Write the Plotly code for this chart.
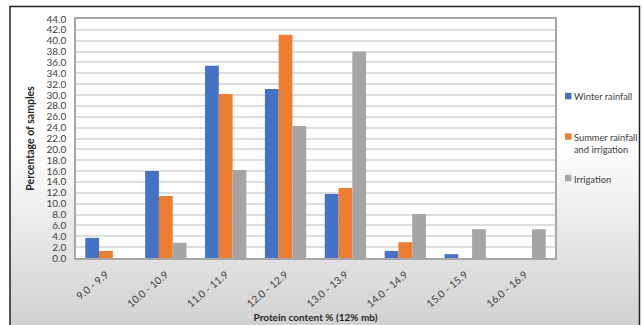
import plotly.graph_objects as go

categories = ["9.0 - 9.9", "10.0 - 10.9", "11.0 - 11.9", "12.0 - 12.9",
              "13.0 - 13.9", "14.0 - 14.9", "15.0 - 15.9", "16.0 - 16.9"]
winter_rainfall = [3.7, 16.0, 35.4, 31.1, 11.8, 1.3, 0.7, 0.0]
summer_rainfall_irrigation = [1.3, 11.4, 30.2, 41.1, 12.9, 2.9, 0.0, 0.0]
irrigation = [0.0, 2.8, 16.2, 24.3, 38.0, 8.1, 5.3, 5.3]

series_names = ["Winter rainfall", "Summer rainfall<br>and irrigation", "Irrigation"]
series_values = [winter_rainfall, summer_rainfall_irrigation, irrigation]
series_colors = ["#4472C4", "#ED7D31", "#A5A5A5"]

FONT = "Lato, 'Open Sans', sans-serif"

fig = go.Figure()
for name, vals, col in zip(series_names, series_values, series_colors):
    fig.add_trace(go.Bar(x=categories, y=vals, name=name.replace("<br>", " "),
                         marker_color=col, marker_line_width=0, showlegend=False))

# plot area in pixels: x 76..555, y 19..258
L, R, T, B = 76, 555, 19, 258
W, H = R - L, B - T
def px(x): return (x - L) / W
def py(y): return (B - y) / H

shapes = []
# background gradient (white -> light grey towards the bottom)
y_start, y_end = 140, 330
n = 48
for k in range(n):
    y0 = y_start + (y_end - y_start) * k / n
    y1 = y_start + (y_end - y_start) * (k + 1) / n
    t = (k + 0.5) / n
    g = int(round(255 - (255 - 208) * t))
    shapes.append(dict(type="rect", xref="paper", yref="paper",
                       x0=px(10), x1=px(640), y0=py(y1 + 0.5), y1=py(y0),
                       fillcolor=f"rgb({g},{g},{g})", line_width=0, layer="below"))
# white plot area
shapes.append(dict(type="rect", xref="paper", yref="paper", x0=0, x1=1, y0=0, y1=1,
                   fillcolor="white", line_width=0, layer="below"))
# outer chart frame
shapes.append(dict(type="rect", xref="paper", yref="paper",
                   x0=px(10), x1=px(639.5), y0=py(335), y1=py(6.5),
                   fillcolor="rgba(0,0,0,0)", line=dict(color="#202020", width=1.5)))

# manual legend
legend_rows = [96, 136.5, 178]
annotations = []
for (name, col, yy) in zip(series_names, series_colors, legend_rows):
    shapes.append(dict(type="rect", xref="paper", yref="paper",
                       x0=px(565), x1=px(571.5), y0=py(yy + 3.3), y1=py(yy - 3.2),
                       fillcolor=col, line_width=0))
    annotations.append(dict(text=name, xref="paper", yref="paper",
                            x=px(572), y=py(yy - 6.5), xanchor="left", yanchor="top",
                            showarrow=False, align="left",
                            font=dict(size=9.3, color="#404040", family=FONT)))

fig.update_layout(
    width=642, height=325,
    margin=dict(l=L, r=642 - R, t=T, b=325 - B),
    paper_bgcolor="white", plot_bgcolor="white",
    barmode="group", bargap=0.31, bargroupgap=0,
    font=dict(family=FONT, size=9, color="#404040"),
    showlegend=False,
    shapes=shapes, annotations=annotations,
)

fig.update_xaxes(tickangle=-40, tickfont=dict(size=10.3, color="#404040"),
                 showline=True, linecolor="#A6A6A6", linewidth=1.5, mirror=True,
                 ticks="", automargin=False, ticklabelstandoff=5,
                 title=dict(text="<b>Protein content % (12% mb)</b>",
                            font=dict(size=10, color="#262626"), standoff=6))
fig.update_yaxes(range=[0, 44], dtick=2, tickformat=".1f",
                 tickfont=dict(size=10, color="#404040"),
                 showgrid=True, gridcolor="#DDDDDD", gridwidth=1.5,
                 showline=True, linecolor="#A6A6A6", linewidth=1.5, mirror=True,
                 ticks="", zeroline=False, automargin=False, ticklabelstandoff=6,
                 title=dict(text="<b>Percentage of samples</b>",
                            font=dict(size=10.5, color="#262626"), standoff=10))

fig.write_html("out.html", config={"displayModeBar": False},
               post_script="document.body.style.margin='0';document.body.style.overflow='hidden';")
